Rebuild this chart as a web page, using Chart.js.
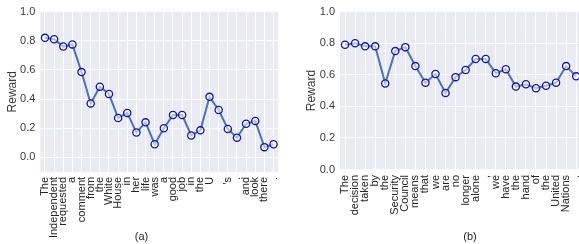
<!DOCTYPE html>
<html>
<head>
<meta charset="utf-8">
<script src="https://cdn.jsdelivr.net/npm/chart.js@4/dist/chart.umd.min.js"></script>
<style>
  html, body { margin: 0; padding: 0; background: #ffffff; overflow: hidden; width: 579px; height: 244px; }
  #wa { position: absolute; left: 0; top: 0; }
  #wb { position: absolute; left: 290px; top: 0; }
</style>
</head>
<body>
<div id="wa"><canvas id="ca" width="283" height="244"></canvas></div>
<div id="wb"><canvas id="cb" width="360" height="244"></canvas></div>
<script>
const leftLabels = ["The","Independent","requested","a","comment","from","the","White","House","in","her","life","was","a","good","job","in","the","U","","'s",".","and","look","there","."];
const leftValues = [0.82,0.81,0.76,0.775,0.585,0.37,0.485,0.435,0.27,0.305,0.17,0.24,0.09,0.20,0.29,0.29,0.15,0.185,0.415,0.325,0.195,0.135,0.23,0.25,0.07,0.09];
const rightLabels = ["The","decision","taken","by","the","Security","Council","means","that","we","are","no","longer","alone",",","we","have","the","hand","of","the","United","Nations","."];
const rightValues = [0.79,0.80,0.78,0.78,0.545,0.75,0.775,0.655,0.55,0.605,0.485,0.585,0.63,0.70,0.70,0.61,0.635,0.525,0.54,0.515,0.53,0.55,0.655,0.59];
const yTicks = [0.0,0.2,0.4,0.6,0.8,1.0];
const yTitle = "Reward";
const captionA = "(a)";
const captionB = "(b)";

const FONT = "'Liberation Sans', Arial, sans-serif";

const plotBg = {
  id: 'plotBg',
  beforeDraw(chart) {
    const a = chart.chartArea, ctx = chart.ctx;
    ctx.save();
    ctx.fillStyle = '#EAEAF2';
    ctx.fillRect(a.left, a.top, a.right - a.left, a.bottom - a.top);
    ctx.restore();
  }
};

const caption = {
  id: 'caption',
  afterDraw(chart, args, opts) {
    const ctx = chart.ctx;
    ctx.save();
    ctx.fillStyle = '#262626';
    ctx.font = '11px ' + FONT;
    ctx.textAlign = 'center';
    ctx.textBaseline = 'middle';
    ctx.fillText(opts.text, chart.width / 2, opts.y);
    ctx.restore();
  }
};

function makeChart(id, labels, values, cfg) {
  return new Chart(document.getElementById(id), {
    type: 'line',
    data: {
      labels: labels,
      datasets: [{
        data: values,
        borderColor: '#4C72B0',
        borderWidth: 2,
        tension: 0,
        pointRadius: 3.6,
        pointHoverRadius: 3.6,
        pointBorderWidth: 1.3,
        pointBorderColor: '#16168f',
        pointBackgroundColor: 'rgba(255,255,255,0.55)'
      }]
    },
    options: {
      responsive: false,
      devicePixelRatio: 1,
      animation: false,
      events: [],
      layout: { padding: { left: cfg.padLeft, right: cfg.padRight, top: 11, bottom: 0 } },
      plugins: {
        legend: { display: false },
        tooltip: { enabled: false },
        caption: { text: cfg.caption, y: 236.5 }
      },
      scales: {
        x: {
          type: 'category',
          offset: true,
          border: { display: false },
          grid: { color: '#ffffff', lineWidth: 1, drawTicks: false, offset: false },
          ticks: {
            autoSkip: false,
            minRotation: 90,
            maxRotation: 90,
            padding: cfg.xPad,
            color: '#262626',
            font: { family: FONT, size: 11 }
          },
          afterFit(s) {
            s.height = cfg.xHeight;
            s.paddingLeft = 0;
            s.paddingRight = 0;
          }
        },
        y: {
          min: cfg.yMin,
          max: 1.0,
          border: { display: false },
          grid: { color: '#ffffff', lineWidth: 1, drawTicks: false },
          afterBuildTicks(s) { s.ticks = yTicks.map(v => ({ value: v })); },
          ticks: {
            padding: cfg.yPad,
            color: '#3a3a3a',
            font: { family: FONT, size: 11 },
            callback: v => Number(v).toFixed(1)
          },
          title: {
            display: true,
            text: yTitle,
            color: '#3a3a3a',
            font: { family: FONT, size: 12 },
            padding: { top: 4, bottom: 4 }
          },
          afterFit(s) { s.width = cfg.yWidth; }
        }
      }
    },
    plugins: [plotBg, caption]
  });
}

makeChart('ca', leftLabels, leftValues, {
  caption: captionA, padLeft: 1, padRight: 1, yWidth: 39.4, yPad: 5, xPad: 5,
  xHeight: 72.1, yMin: -0.1
});
makeChart('cb', rightLabels, rightValues, {
  caption: captionB, padLeft: 10, padRight: 68.8, yWidth: 40, yPad: 5, xPad: 5.5,
  xHeight: 74.5, yMin: 0.0
});
</script>
</body>
</html>
